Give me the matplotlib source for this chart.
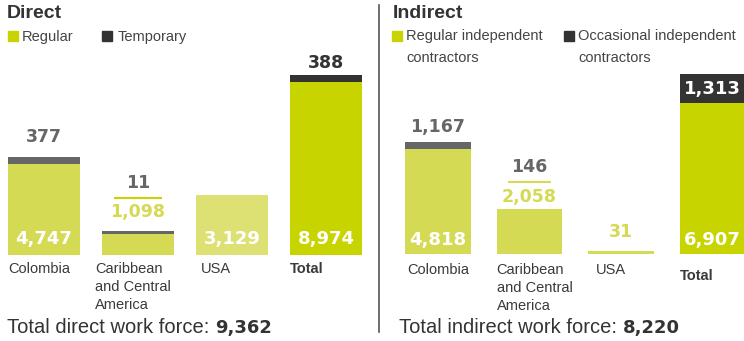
"""
Direct and indirect work force by region, stacked bars in two panels.
"""

import numpy as np
import matplotlib.pyplot as plt
from matplotlib.patches import Rectangle

categories = ["Colombia", "Caribbean\nand Central\nAmerica", "USA", "Total"]

direct_regular = [4747, 1098, 3129, 8974]
direct_temporary = [377, 11, 0, 388]
direct_total = 9362

indirect_regular = [4818, 2058, 31, 6907]
indirect_occasional = [1167, 146, 0, 1313]
indirect_total = 8220

W, H, DPI = 744, 341, 100
TEXT_FONT = "Liberation Sans"
NUM_FONT = "DejaVu Sans"

LIGHT = "#d5da55"
PALE = "#dde073"
BRIGHT = "#c8d400"
GRAY = "#666666"
DARK = "#333333"


def px2pt(v):
    return v * 72 / DPI


def fig_box(x0, y_top, x1, y_bottom):
    return [x0 / W, 1 - y_bottom / H, (x1 - x0) / W, (y_bottom - y_top) / H]


def fmt(v):
    return f"{v:,}"


def num_label(ax, x, y, text, dy_px, color, size=12.5):
    ax.annotate(text, xy=(x, y), xytext=(0, px2pt(dy_px)),
                textcoords="offset points", ha="center", va="center",
                fontsize=size, fontweight="bold", family=NUM_FONT,
                color=color, annotation_clip=False)


def draw_panel(ax, regular, extra, ymax, height_px, first_px, step_px,
               bar_colors, cap_colors, cap_px, width, label_dx, label_dy):
    upp = ymax / height_px  # data units per pixel
    x = np.arange(len(regular))
    heights = np.maximum(regular, 3 * upp)
    ax.bar(x, heights, width, color=bar_colors, linewidth=0)
    caps = [e if c is None else c * upp for e, c in zip(extra, cap_px)]
    ax.bar(x, caps, width, bottom=heights, color=cap_colors, linewidth=0)
    ax.set_xlim(-first_px / step_px, (372 - first_px) / step_px)
    ax.set_ylim(0, ymax)
    ax.axis("off")
    for i, name in enumerate(categories):
        ax.annotate(name, xy=(x[i] - width / 2, 0),
                    xytext=(px2pt(label_dx[i]), -px2pt(label_dy[i])),
                    textcoords="offset points", ha="left", va="top",
                    fontsize=10.5, family=TEXT_FONT, color="#3a3a3a",
                    fontweight="bold" if name == "Total" else "normal",
                    linespacing=1.35, annotation_clip=False)
    return x, heights, heights + np.array(caps), upp


fig = plt.figure(figsize=(W / DPI, H / DPI), dpi=DPI)

# Direct panel
ax1 = fig.add_axes(fig_box(0, 0, 372, 255))
x, top_reg, top_all, upp = draw_panel(
    ax1, direct_regular, direct_temporary, 13230, 255, 44, 94,
    [LIGHT, LIGHT, PALE, BRIGHT], [GRAY, GRAY, GRAY, DARK],
    [7, 3, 0, None], 0.76, [0, -7, 5, 0], [7, 7, 7, 7])

for i in (0, 2, 3):
    num_label(ax1, x[i], 0, fmt(direct_regular[i]), 16, "white", 13)
num_label(ax1, x[0], top_all[0], fmt(direct_temporary[0]), 20, GRAY)
num_label(ax1, x[3], top_all[3], fmt(direct_temporary[3]), 12, DARK)
num_label(ax1, x[1], top_all[1], fmt(direct_regular[1]), 19, LIGHT)
ax1.hlines(top_all[1] + 33 * upp, x[1] - 0.26, x[1] + 0.26, color=BRIGHT, lw=1.5)
num_label(ax1, x[1], top_all[1], fmt(direct_temporary[1]), 48, GRAY)

# Indirect panel
ax2 = fig.add_axes(fig_box(372, 0, 744, 254))
x, top_reg, top_all, upp = draw_panel(
    ax2, indirect_regular, indirect_occasional, 11620, 254, 66, 91.5,
    [LIGHT, LIGHT, LIGHT, BRIGHT], [GRAY, GRAY, GRAY, DARK],
    [7, 0, 0, None], 0.72, [2, 0, 8, 0], [9, 9, 9, 15])

for i in (0, 3):
    num_label(ax2, x[i], 0, fmt(indirect_regular[i]), 14, "white", 13)
num_label(ax2, x[0], top_all[0], fmt(indirect_occasional[0]), 15, GRAY)
num_label(ax2, x[1], top_reg[1], fmt(indirect_regular[1]), 12, LIGHT)
ax2.hlines(top_reg[1] + 27 * upp, x[1] - 0.23, x[1] + 0.23, color=LIGHT, lw=1.5)
num_label(ax2, x[1], top_reg[1], fmt(indirect_occasional[1]), 42, GRAY)
num_label(ax2, x[2], top_reg[2], fmt(indirect_regular[2]), 19, LIGHT)
num_label(ax2, x[3], (top_reg[3] + top_all[3]) / 2, fmt(indirect_occasional[3]),
          0, "white", 13)


# titles, legends, footers
def ftext(xp, yp, s, **kw):
    kw.setdefault("family", TEXT_FONT)
    kw.setdefault("color", DARK)
    return fig.text(xp / W, 1 - yp / H, s, **kw)


def legend_square(xp, yp, color):
    fig.patches.append(Rectangle((xp / W, 1 - (yp + 10) / H), 10 / W, 10 / H,
                                 transform=fig.transFigure, color=color))


ftext(7, 14, "Direct", fontsize=14, fontweight="bold", va="center")
ftext(393, 14, "Indirect", fontsize=14, fontweight="bold", va="center")

legend_square(8, 31, BRIGHT)
ftext(22, 37, "Regular", fontsize=10.5, va="center", color="#444444")
legend_square(102, 31, DARK)
ftext(118, 37, "Temporary", fontsize=10.5, va="center", color="#444444")

legend_square(392, 31, BRIGHT)
ftext(406, 29, "Regular independent\ncontractors", fontsize=10.5, va="top",
      linespacing=1.75, color="#444444")
legend_square(564, 31, DARK)
ftext(578, 29, "Occasional independent\ncontractors", fontsize=10.5, va="top",
      linespacing=1.75, color="#444444")

footers = [(7, "Total direct work force:", direct_total),
           (399, "Total indirect work force:", indirect_total)]
renderer = fig.canvas.get_renderer()
for xp, label, total in footers:
    t = ftext(xp, 333, label, fontsize=14.5, va="baseline")
    bb = t.get_window_extent(renderer)
    fig.text((bb.x1 + 6) / W, 1 - 333 / H, fmt(total), fontsize=13,
             fontweight="bold", family=NUM_FONT, color=DARK, va="baseline")

fig.add_artist(plt.Line2D([379 / W, 379 / W], [1 - 5 / H, 1 - 332 / H],
                          color="#555555", lw=1.2))

fig.savefig("out.png", dpi=DPI)
